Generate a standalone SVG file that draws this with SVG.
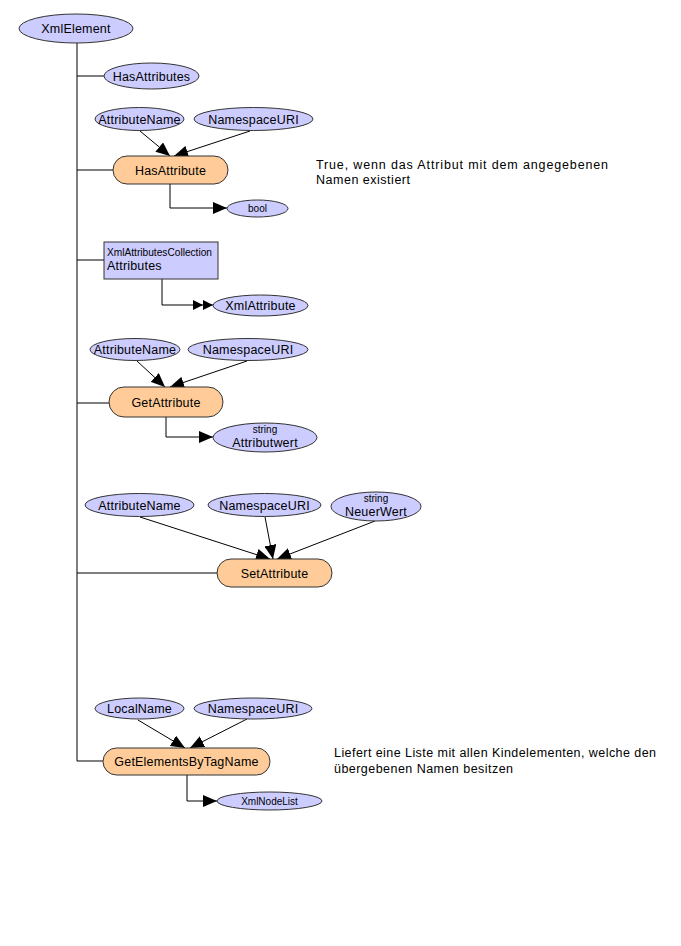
<svg xmlns="http://www.w3.org/2000/svg" width="681" height="946" viewBox="0 0 681 946">
<defs>
<style>
.e{fill:#CCCCFF;stroke:#333;stroke-width:1}
.m{fill:#FFCC99;stroke:#333;stroke-width:1}
.r{fill:#CCCCFF;stroke:#333;stroke-width:1}
text{font-family:"Liberation Sans",Arial,sans-serif;fill:#000}
.t{font-size:12.5px;text-anchor:middle;letter-spacing:0.2px}
.s{font-size:10px;text-anchor:middle}
.d{font-size:12.5px}
.c{fill:none;stroke:#000;stroke-width:1}
</style>
<marker id="a" markerUnits="userSpaceOnUse" markerWidth="14" markerHeight="12" refX="14" refY="6" orient="auto"><path d="M0,0 L14,6 L0,12 z" fill="#000"/></marker>
<marker id="aa" markerUnits="userSpaceOnUse" markerWidth="20" markerHeight="10" refX="20" refY="5" orient="auto"><path d="M0,0 L10,5 L0,10 z M10,0 L20,5 L10,10 z" fill="#000"/></marker>
</defs>
<rect width="681" height="946" fill="#fff"/>
<g id="connectors">
<path class="c" d="M77,43 V761"/>
<path class="c" d="M77,76 H104"/>
<path class="c" d="M77,170 H113"/>
<path class="c" d="M77,260 H104"/>
<path class="c" d="M77,403 H109"/>
<path class="c" d="M77,573 H217"/>
<path class="c" d="M77,761 H103"/>
<path class="c" d="M170,184 V208 H227" marker-end="url(#a)"/>
<path class="c" d="M162,279 V305 H213" marker-end="url(#aa)"/>
<path class="c" d="M166,417 V437 H213" marker-end="url(#a)"/>
<path class="c" d="M187,775 V801 H217" marker-end="url(#a)"/>
<path class="c" d="M140,131 L170,156" marker-end="url(#a)"/>
<path class="c" d="M250,131 L174,156" marker-end="url(#a)"/>
<path class="c" d="M137,361 L165,387" marker-end="url(#a)"/>
<path class="c" d="M247,361 L170,387" marker-end="url(#a)"/>
<path class="c" d="M140,517 L270,559" marker-end="url(#a)"/>
<path class="c" d="M265,517 L273,559" marker-end="url(#a)"/>
<path class="c" d="M375,521 L277,559" marker-end="url(#a)"/>
<path class="c" d="M138,720 L185,748" marker-end="url(#a)"/>
<path class="c" d="M247,719 L190,748" marker-end="url(#a)"/>
</g>
<g id="XmlElement"><ellipse class="e" cx="76" cy="28.5" rx="57" ry="14.5"/><text class="t" x="76" y="33">XmlElement</text></g>
<g id="HasAttributes"><ellipse class="e" cx="151.5" cy="76" rx="47.5" ry="13"/><text class="t" x="151.5" y="80.5">HasAttributes</text></g>
<g id="AttributeName1"><ellipse class="e" cx="139.5" cy="119" rx="44.5" ry="11.5"/><text class="t" x="139.5" y="123.5">AttributeName</text></g>
<g id="NamespaceURI1"><ellipse class="e" cx="253.5" cy="119" rx="59.5" ry="11.5"/><text class="t" x="253.5" y="123.5">NamespaceURI</text></g>
<g id="HasAttribute"><rect class="m" x="113" y="156" width="115" height="28" rx="14"/><text class="t" x="170.5" y="174.5">HasAttribute</text></g>
<g id="bool"><ellipse class="e" cx="257.5" cy="208.5" rx="30.5" ry="8.5"/><text class="s" x="257.5" y="212">bool</text></g>
<g id="HasAttributeNote"><text class="d" x="316" y="169" textLength="292" lengthAdjust="spacing">True, wenn das Attribut mit dem angegebenen</text><text class="d" x="316" y="184" textLength="94" lengthAdjust="spacing">Namen existiert</text></g>
<g id="Attributes"><rect class="r" x="104" y="242" width="114" height="37"/><text font-size="10" x="107" y="256" textLength="105" lengthAdjust="spacingAndGlyphs">XmlAttributesCollection</text><text font-size="12.5" x="107" y="270" letter-spacing="0.2">Attributes</text></g>
<g id="XmlAttribute"><ellipse class="e" cx="260.5" cy="305.5" rx="47.5" ry="10.5"/><text class="t" x="260.5" y="310">XmlAttribute</text></g>
<g id="AttributeName2"><ellipse class="e" cx="135" cy="349.5" rx="45" ry="11"/><text class="t" x="135" y="354">AttributeName</text></g>
<g id="NamespaceURI2"><ellipse class="e" cx="248" cy="349.5" rx="60" ry="11"/><text class="t" x="248" y="354">NamespaceURI</text></g>
<g id="GetAttribute"><rect class="m" x="109" y="387" width="114" height="30" rx="15"/><text class="t" x="166" y="406.5">GetAttribute</text></g>
<g id="Attributwert"><ellipse class="e" cx="265" cy="437.5" rx="52" ry="14.5"/><text class="s" x="265" y="433">string</text><text class="t" x="265" y="447">Attributwert</text></g>
<g id="AttributeName3"><ellipse class="e" cx="139.5" cy="505" rx="54.5" ry="11.5"/><text class="t" x="139.5" y="509.5">AttributeName</text></g>
<g id="NamespaceURI3"><ellipse class="e" cx="264.5" cy="505" rx="56.5" ry="11.5"/><text class="t" x="264.5" y="509.5">NamespaceURI</text></g>
<g id="NeuerWert"><ellipse class="e" cx="376" cy="506.5" rx="45" ry="14.5"/><text class="s" x="376" y="502">string</text><text class="t" x="376" y="516">NeuerWert</text></g>
<g id="SetAttribute"><rect class="m" x="217" y="559" width="115" height="28" rx="14"/><text class="t" x="274.5" y="577.5">SetAttribute</text></g>
<g id="LocalName"><ellipse class="e" cx="139.5" cy="708.5" rx="44.5" ry="10.5"/><text class="t" x="139.5" y="713">LocalName</text></g>
<g id="NamespaceURI4"><ellipse class="e" cx="253" cy="708.5" rx="59" ry="10.5"/><text class="t" x="253" y="713">NamespaceURI</text></g>
<g id="GetElementsByTagName"><rect class="m" x="103" y="748" width="167" height="27" rx="13.5"/><text class="t" x="186.5" y="766">GetElementsByTagName</text></g>
<g id="XmlNodeList"><ellipse class="e" cx="269.5" cy="801" rx="52.5" ry="9"/><text class="s" x="269.5" y="804.5">XmlNodeList</text></g>
<g id="GetElementsNote"><text class="d" x="334" y="757" textLength="322" lengthAdjust="spacing">Liefert eine Liste mit allen Kindelementen, welche den</text><text class="d" x="334" y="773" textLength="179" lengthAdjust="spacing">übergebenen Namen besitzen</text></g>
</svg>
